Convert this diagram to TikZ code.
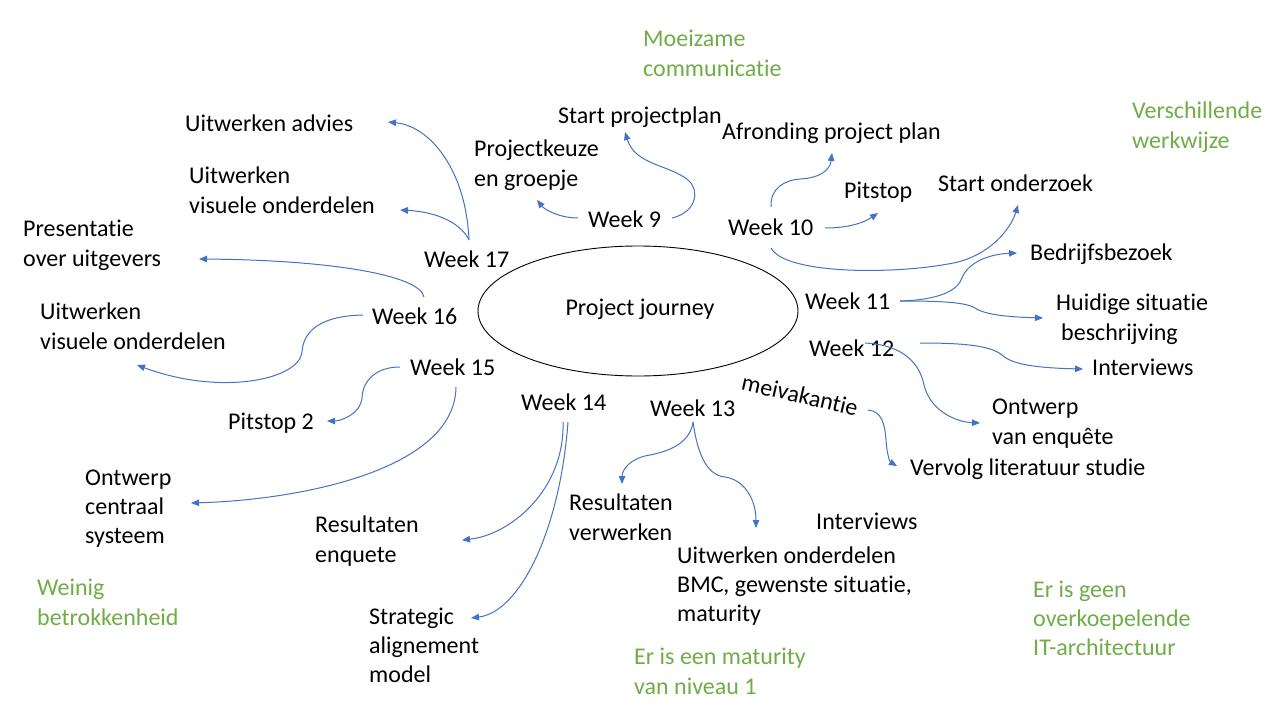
\documentclass[tikz,border=0pt]{standalone}
\usepackage{fontspec}
\setmainfont{Carlito}[Ligatures={NoCommon}]
\usetikzlibrary{arrows.meta,calc,shapes.geometric}
\definecolor{lineblue}{HTML}{4472C4}
\definecolor{notegreen}{HTML}{70AD47}
\begin{document}
\begin{tikzpicture}[x=1pt,y=-1pt,
  txt/.style={inner sep=0pt, anchor=base west, align=left, font=\fontsize{24}{29.3}\selectfont},
  note/.style={txt, text=notegreen},
  arr/.style={draw=lineblue, line width=1pt, -{Triangle[length=8pt,width=6.5pt]}, fill=none}]
\useasboundingbox (0,0) rectangle (1280,720);
\fill[white] (0,0) rectangle (1280,720);

% centre
\node[draw=black, line width=0.9pt, ellipse, minimum width=320pt, minimum height=130pt, inner sep=0pt] (pjell) at (638,311) {};
\node[txt, anchor=center] (pj) at (640,309) {Project journey};

% week labels
\node[txt] (w9)  at (588,227) {Week 9};
\node[txt] (w10) at (728,235) {Week 10};
\node[txt] (w11) at (805,309) {Week 11};
\node[txt] (w12) at (809,356) {Week 12};
\node[txt] (w13) at (650,416) {Week 13};
\node[txt] (w14) at (521,410) {Week 14};
\node[txt] (w15) at (410,375) {Week 15};
\node[txt] (w16) at (372,324) {Week 16};
\node[txt] (w17) at (424,267) {Week 17};
\node[txt, anchor=center, rotate=-13] (mei) at (800,395) {meivakantie};

% activities (multi-line nodes are placed at the baseline of their last line)
\node[txt] (ua)  at (185,131) {Uitwerken advies};
\node[txt] (uv1) at (189,213) {Uitwerken\\visuele onderdelen};
\node[txt] (pres) at (23,266) {Presentatie\\over uitgevers};
\node[txt] (pk)  at (474,186) {Projectkeuze\\en groepje};
\node[txt] (sp)  at (558,123) {Start projectplan};
\node[txt] (afr) at (722,139) {Afronding project plan};
\node[txt] (pit) at (844,198) {Pitstop};
\node[txt] (so)  at (938,191) {Start onderzoek};
\node[txt] (bb)  at (1030,260) {Bedrijfsbezoek};
\node[txt] (hs)  at (1056,340) {Huidige situatie\\\hspace*{5pt}beschrijving};
\node[txt] (int1) at (1092,375) {Interviews};
\node[txt] (ove) at (992,444) {Ontwerp\\van enquête};
\node[txt] (vls) at (910,475) {Vervolg literatuur studie};
\node[txt] (rv)  at (569,540) {Resultaten\\verwerken};
\node[txt] (int2) at (816,529) {Interviews};
\node[txt] (uo)  at (677,621.6) {Uitwerken onderdelen\\BMC, gewenste situatie,\\maturity};
\node[txt] (re)  at (315,562) {Resultaten\\enquete};
\node[txt] (sam) at (369,682.6) {Strategic\\alignement\\model};
\node[txt] (uv2) at (40,349) {Uitwerken\\visuele onderdelen};
\node[txt] (p2)  at (228,429) {Pitstop 2};
\node[txt] (ocs) at (85,543.6) {Ontwerp\\centraal\\systeem};

% green notes
\node[note] (g1) at (643,76) {Moeizame\\communicatie};
\node[note] (g2) at (1132,148) {Verschillende\\werkwijze};
\node[note] (g3) at (37,625) {Weinig\\betrokkenheid};
\node[note] (g4) at (634,694) {Er is een maturity\\van niveau 1};
\node[note] (g5) at (1033,655.6) {Er is geen\\overkoepelende\\IT-architectuur};

% connectors
\draw[arr] ($(w17.base west)+(45,-27)$) .. controls (466,170) and (430,126) .. ($(ua.base west)+(203,-9)$);
\draw[arr] ($(w17.base west)+(45,-27)$) .. controls (462,225) and (440,212) .. ($(uv1.base west)+(211,-3)$);
\draw[arr] ($(w16.base west)+(52,-27)$) .. controls (420,275) and (330,260) .. ($(pres.base west)+(176,-7)$);
\draw[arr] ($(w16.base west)+(-9,-9)$) .. controls (315,316) and (303,335) .. (302,352) .. controls (299,380) and (220,396) .. ($(uv2.base west)+(97,16)$);
\draw[arr] ($(w15.base west)+(-10,-8)$) .. controls (372,367) and (362,385) .. (362,398) .. controls (360,415) and (340,421) .. ($(p2.base west)+(99,-8)$);
\draw[arr] ($(w15.base west)+(46,12)$) .. controls (455,470) and (300,500) .. ($(ocs.base west)+(106,-40.6)$);
\draw[arr] ($(w14.base west)+(42,12)$) .. controls (565,490) and (510,535) .. ($(re.base west)+(147,-22)$);
\draw[arr] ($(w14.base west)+(47,12)$) .. controls (560,530) and (520,612) .. ($(sam.base west)+(102,-64.6)$);
\draw[arr] ($(w13.base west)+(43,6)$) .. controls (690,445) and (665,452) .. (650,455) .. controls (630,458) and (622,470) .. ($(rv.base west)+(53,-56)$);
\draw[arr] ($(w13.base west)+(43,6)$) .. controls (697,450) and (705,475) .. (725,477) .. controls (745,480) and (756,500) .. ($(uo.base west)+(79,-93.6)$);
\draw[arr] ($(mei.center)+(68,15)$) .. controls (882,411) and (885,425) .. (886,440) .. controls (887,455) and (890,462) .. ($(vls.base west)+(-13,-9)$);
\draw[arr] ($(w12.base west)+(56,-13)$) .. controls (905,345) and (920,365) .. (924,385) .. controls (930,410) and (955,422) .. ($(ove.base west)+(-12,-21)$);
\draw[arr] ($(w12.base west)+(111,-13)$) .. controls (960,343) and (990,345) .. (1002,355) .. controls (1012,365) and (1040,368) .. ($(int1.base west)+(-9,-6)$);
\draw[arr] ($(w11.base west)+(95,-8)$) .. controls (940,301) and (965,302) .. (975,308) .. controls (985,315) and (1010,317) .. ($(hs.base west)+(-13,-22)$);
\draw[arr] ($(w11.base west)+(95,-8)$) .. controls (940,300) and (958,290) .. (962,278) .. controls (968,262) and (990,254) .. ($(bb.base west)+(-13,-7)$);
\draw[arr] ($(w10.base west)+(43,13)$) .. controls (785,275) and (900,275) .. (958,262) .. controls (995,252) and (1012,225) .. ($(so.base west)+(80,14)$);
\draw[arr] ($(w10.base west)+(97,-7)$) .. controls (850,228) and (865,222) .. ($(pit.base west)+(34,15)$);
\draw[arr] ($(w10.base west)+(43,-28)$) .. controls (770,188) and (785,180) .. (800,179) .. controls (820,178) and (830,170) .. ($(afr.base west)+(110,14)$);
\draw[arr] ($(w9.base west)+(-10,-9)$) .. controls (560,218) and (545,210) .. ($(pk.base west)+(63,14)$);
\draw[arr] ($(w9.base west)+(84,-9)$) .. controls (697,212) and (700,190) .. (688,180) .. controls (670,165) and (635,165) .. ($(sp.base west)+(67,9)$);
\end{tikzpicture}
\end{document}
